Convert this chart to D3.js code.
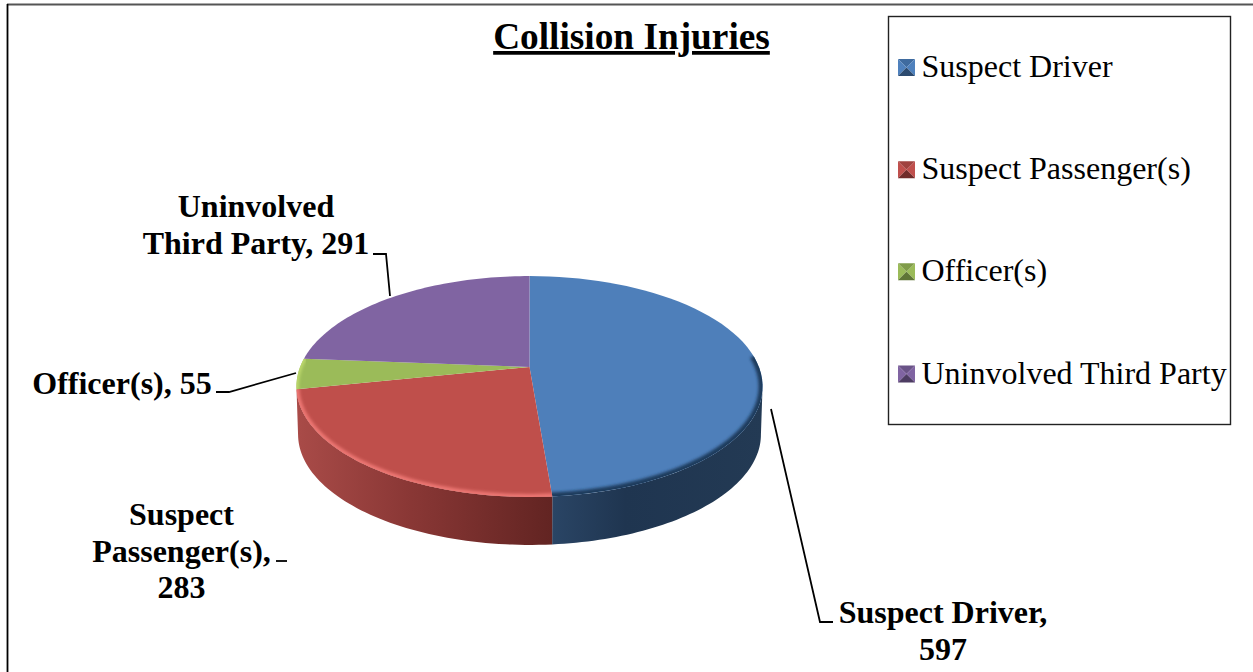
<!DOCTYPE html>
<html>
<head>
<meta charset="utf-8">
<script src="https://cdnjs.cloudflare.com/ajax/libs/d3/7.8.5/d3.min.js"></script>
<style>
html,body{margin:0;padding:0;background:#fff;overflow:hidden}
svg{display:block}
text{font-family:"Liberation Serif","Times New Roman",serif;fill:#000}
</style>
</head>
<body>
<svg id="chart" width="1253" height="672"></svg>
<script>
const titleText = "Collision Injuries";
const categories = ["Suspect Driver", "Suspect Passenger(s)", "Officer(s)", "Uninvolved Third Party"];
const values = [597, 283, 55, 291];
const topColors = ["#4e7fba", "#bf4f4b", "#9bbb59", "#8064a2"];
const labelLines = [
  ["Suspect Driver,", "597"],
  ["Suspect", "Passenger(s),", "283"],
  ["Officer(s), 55"],
  ["Uninvolved", "Third Party, 291"]
];
const labelAnchors = [[943, 623], [181.5, 525], [122, 393.5], [256, 217]];
const labelLineHeight = 36.5;
const leaders = [
  [[771, 409], [820, 622], [833, 622]],
  [[276, 561], [287, 561]],
  [[296, 373], [229, 392], [216, 392]],
  [[390, 296], [386, 254], [373, 254]]
];
const wallStops = [
  [["0%", "#2a4565"], ["35%", "#1f3550"], ["100%", "#233a54"]],
  [["0%", "#a94b48"], ["45%", "#893735"], ["100%", "#622422"]]
];
const rimStyles = [
  {color: "#1f3a5c", width: 8, from: 84, to: 176},
  {color: "#ec7672", width: 6, from: 175, to: 259},
  {color: "#bcd86c", width: 5, from: 258, to: 275},
  null
];
const keyShades = [
  ["#3f6b9f", "#4f81bd", "#4f81bd", "#2c4a6f"],
  ["#a04340", "#c0504d", "#c0504d", "#702b29"],
  ["#809c4a", "#9bbb59", "#9bbb59", "#5f7536"],
  ["#6a5387", "#8064a2", "#8064a2", "#4d3c62"]
];

const svg = d3.select("#chart");
const defs = svg.append("defs");

const cx = 529.5, cy = 367, rx0 = 229.4, ry0 = 107, persp = 0.1765, depth = 48;
const project = (a, dy = 0, k = 1) => {
  const u = Math.sin(a), v = -Math.cos(a), w = 1 - persp * v;
  return [cx + k * rx0 * u / w, cy + ry0 * v / w + dy];
};
const deg = d => d * Math.PI / 180;
const sampled = (a0, a1) => d3.range(0, 61).map(i => a0 + (a1 - a0) * i / 60);
const line = d3.line();

const arcs = d3.pie().sort(null).value(d => d)(values);

defs.append("filter").attr("id", "soft").attr("x", "-10%").attr("y", "-10%").attr("width", "120%").attr("height", "120%")
  .append("feGaussianBlur").attr("stdDeviation", 1.8);

// outer walls
const wallMin = deg(100.2), wallMax = deg(259.8);
arcs.forEach((d, i) => {
  const a0 = Math.max(d.startAngle, wallMin), a1 = Math.min(d.endAngle, wallMax);
  if (a1 <= a0 || !wallStops[i]) return;
  const pts = sampled(a0, a1);
  const outline = pts.map(a => project(a)).concat(pts.slice().reverse().map(a => project(a, depth, 0.993)));
  const xs = outline.map(p => p[0]);
  const g = defs.append("linearGradient").attr("id", "wall" + i)
    .attr("gradientUnits", "userSpaceOnUse")
    .attr("x1", d3.min(xs)).attr("x2", d3.max(xs)).attr("y1", 0).attr("y2", 0);
  wallStops[i].forEach(s => g.append("stop").attr("offset", s[0]).attr("stop-color", s[1]));
  svg.append("path").attr("d", line(outline) + "Z").attr("fill", `url(#wall${i})`);
});

// top faces
arcs.forEach((d, i) => {
  const outline = [[cx, cy]].concat(sampled(d.startAngle, d.endAngle).map(a => project(a)));
  const path = line(outline) + "Z";
  defs.append("clipPath").attr("id", "clip" + i).append("path").attr("d", path);
  svg.append("path").attr("d", path).attr("fill", topColors[i]);
  const rim = rimStyles[i];
  if (rim) {
    svg.append("g").attr("clip-path", `url(#clip${i})`)
      .append("path")
      .attr("d", line(sampled(deg(rim.from), deg(rim.to)).map(a => project(a))))
      .attr("fill", "none").attr("stroke", rim.color).attr("stroke-width", rim.width)
      .attr("filter", "url(#soft)");
  }
});

// outer frame
svg.append("line").attr("x1", 7).attr("x2", 1253).attr("y1", 4.5).attr("y2", 4.5).attr("stroke", "#555").attr("stroke-width", 2);
svg.append("line").attr("x1", 7.5).attr("x2", 7.5).attr("y1", 4).attr("y2", 672).attr("stroke", "#000").attr("stroke-width", 1.8);

// title
svg.append("text").attr("x", 631.5).attr("y", 49).attr("text-anchor", "middle")
  .attr("font-size", 37.3).attr("font-weight", "bold").attr("text-decoration", "underline").text(titleText);

// leaders
leaders.forEach(l => svg.append("path").attr("d", line(l)).attr("fill", "none").attr("stroke", "#000").attr("stroke-width", 1.8));

// data labels
labelLines.forEach((lines, i) => {
  const t = svg.append("text").attr("text-anchor", "middle").attr("font-size", 32).attr("font-weight", "bold");
  lines.forEach((s, j) => t.append("tspan").attr("x", labelAnchors[i][0]).attr("y", labelAnchors[i][1] + j * labelLineHeight).text(s));
});

// legend
svg.append("rect").attr("x", 888.5).attr("y", 16.5).attr("width", 342).attr("height", 408)
  .attr("fill", "#fff").attr("stroke", "#222").attr("stroke-width", 1.4);
const legendY = d3.scalePoint().domain(categories).range([67.5, 374]);
const keySize = 17, keyX = 898;
categories.forEach((c, i) => {
  const y = legendY(c), x0 = keyX, x1 = keyX + keySize, y0 = y - keySize / 2, y1 = y + keySize / 2;
  const xm = (x0 + x1) / 2, ym = (y0 + y1) / 2;
  const tris = [
    [[x0, y0], [x1, y0], [xm, ym]],
    [[x0, y0], [x0, y1], [xm, ym]],
    [[x1, y0], [x1, y1], [xm, ym]],
    [[x0, y1], [x1, y1], [xm, ym]]
  ];
  tris.forEach((t, k) => svg.append("path").attr("d", line(t) + "Z").attr("fill", keyShades[i][k]));
  svg.append("text").attr("x", 921.5).attr("y", y + 9.5).attr("font-size", 32).text(c);
});
</script>
</body>
</html>
